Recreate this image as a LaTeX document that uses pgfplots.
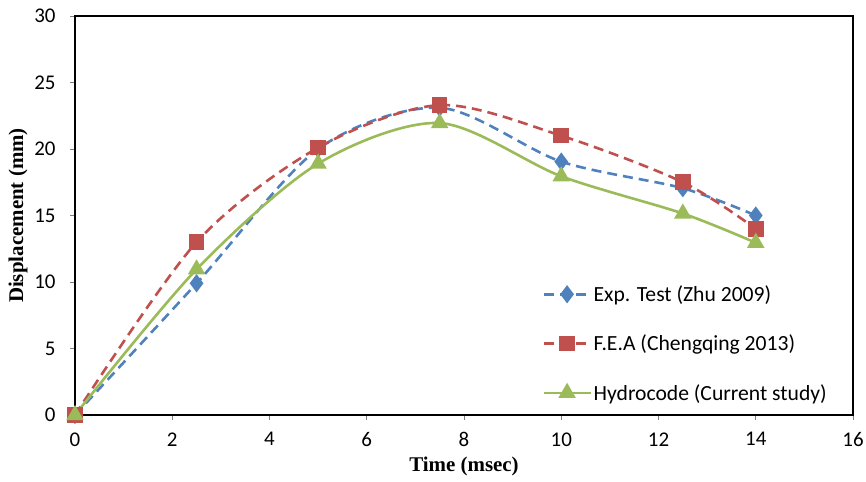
\documentclass[border=0pt]{standalone}
\usepackage{pgfplots}
\pgfplotsset{compat=1.18}
\usepackage{fontspec}
\setmainfont{Carlito}
\newfontfamily\timesf{Liberation Serif}
\definecolor{cblue}{HTML}{4F81BD}
\definecolor{cred}{HTML}{C0504D}
\definecolor{cgreen}{HTML}{9BBB59}
\begin{document}
\begin{tikzpicture}
\begin{axis}[
  name=ax,
  scale only axis,
  width=778bp, height=399bp,
  xmin=0, xmax=16, ymin=0, ymax=30,
  xtick={0,2,...,16}, ytick={0,5,...,30},
  tick align=outside,
  major tick length=5bp,
  every tick/.style={gray, line width=0.8bp},
  xtick pos=bottom, ytick pos=left,
  axis line style={black, line width=1.4bp},
  /pgf/number format/assume math mode=true,
  tick label style={font=\fontsize{21}{25}\selectfont, text=black},
  yticklabel style={xshift=-11bp},
  xticklabel style={yshift=-9bp},
  xlabel={\timesf\bfseries Time (msec)},
  ylabel={\timesf\bfseries Displacement (mm)},
  label style={font=\fontsize{21}{25}\selectfont},
  xlabel style={at={(axis description cs:0.5,-0.128)}, anchor=center},
  ylabel style={at={(axis description cs:-0.073,0.5)}, anchor=center, rotate=0},
  clip=false,
  legend style={draw=none, fill=none, font=\fontsize{21.7}{25}\selectfont,
    at={(axis cs:9.55,0.7)}, anchor=south west, row sep=28bp,
    /tikz/every even column/.append style={column sep=4bp}},
  legend cell align=left,
  legend image code/.code={\draw[mark repeat=2,mark phase=2] plot coordinates {(0cm,0cm)(0.82cm,0cm)(1.64cm,0cm)};},
]
\addplot[cblue, line width=2.6bp, dash pattern=on 10bp off 6bp, smooth, tension=0.5,
  mark=diamond*, mark size=7bp, mark options={solid, fill=cblue, draw=cblue}]
  coordinates {(0,0) (2.5,9.9) (5,20) (7.5,23.1) (10,19.05) (12.5,17.05) (14,15)};
\addlegendentry{Exp. Test (Zhu 2009)}
\addplot[cred, line width=2.6bp, dash pattern=on 10bp off 6bp, smooth, tension=0.5,
  mark=square*, mark size=6.5bp, mark options={solid, fill=cred, draw=cred}]
  coordinates {(0,0) (2.5,13) (5,20.1) (7.5,23.3) (10,21) (12.5,17.5) (14,14)};
\addlegendentry{F.E.A (Chengqing 2013)}
\addplot[cgreen, line width=2.6bp, smooth, tension=0.5,
  mark=triangle*, mark size=7.5bp, mark options={solid, fill=cgreen, draw=cgreen}]
  coordinates {(0,0) (2.5,10.95) (5,18.9) (7.5,21.95) (10,17.95) (12.5,15.15) (14,12.95)};
\addlegendentry{Hydrocode (Current study)}
\end{axis}
\pgfresetboundingbox
\path ([shift={(-75bp,-67bp)}]ax.south west) rectangle ([shift={(13bp,16bp)}]ax.north east);
\end{tikzpicture}
\end{document}
